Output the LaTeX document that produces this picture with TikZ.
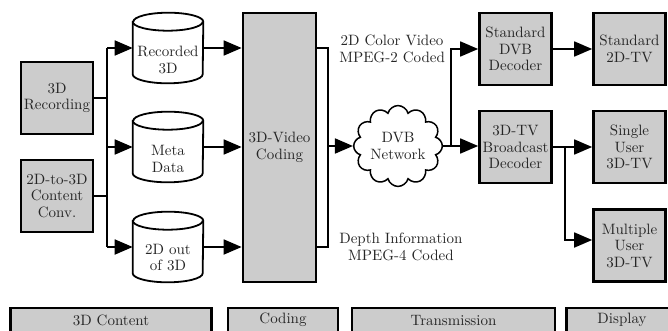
\documentclass[tikz,border=0pt]{standalone}
\usetikzlibrary{arrows.meta,shapes.symbols,calc}
\definecolor{boxgray}{gray}{0.8}
\newcommand{\mycyl}[1]{%
  \draw[cylline,fill=white] ([yshift=-6pt]#1.north west) -- ([yshift=6pt]#1.south west)
    arc[start angle=180,end angle=360,x radius=23.33pt,y radius=6pt]
    -- ([yshift=-6pt]#1.north east)
    arc[start angle=0,end angle=180,x radius=23.33pt,y radius=6pt] -- cycle;
  \draw[cylline] ([yshift=-6pt]#1.north west)
    arc[start angle=180,end angle=360,x radius=23.33pt,y radius=6pt];}
\begin{document}
\begin{tikzpicture}[x=0.6667pt,y=-0.6667pt,
  txt/.style={align=center,font=\fontsize{10}{11}\selectfont,text=black!85},
  box/.style={txt,draw,fill=boxgray,line width=1.8pt,minimum width=48pt,minimum height=48pt,inner sep=1pt},
  ln/.style={line width=1.2pt},
  arr/.style={ln,-{Triangle[length=12pt,width=10pt]}},
  cylline/.style={line width=1.2pt},
  cylbox/.style={minimum width=46.67pt,minimum height=46.67pt,inner sep=0pt},
  bot/.style={box,minimum height=16pt}]
\useasboundingbox (0,0) rectangle (668,330);
\clip (0,0) rectangle (668,330);

% sources
\node[box] (rec) at (57,98) {3D\\Recording};
\node[box] (conv) at (57,196) {2D-to-3D\\Content\\Conv.};

% cylinders
\node[cylbox] (cA) at (168,48) {};
\node[cylbox] (cB) at (168,147) {};
\node[cylbox] (cC) at (168,247) {};
\mycyl{cA}\mycyl{cB}\mycyl{cC}
\node[txt] (tA) at ([yshift=-8pt]cA.center) {Recorded\\3D};
\node[txt] (tB) at ([yshift=-8pt]cB.center) {Meta\\Data};
\node[txt] (tC) at ([yshift=-7pt]cC.center) {2D out\\of 3D};

% coding
\node[box,minimum width=48.7pt,minimum height=179.3pt] (code) at (279.5,147.5) {3D-Video\\Coding};

% cloud
\node[draw,cloud,cloud puffs=12,aspect=1.15,minimum width=57pt,minimum height=50pt,
      fill=white,txt,line width=1pt,inner sep=0pt] (cloud) at (398,146) {DVB\\Network};

% decoders and displays
\node[box] (sdec) at (515.5,49) {Standard\\DVB\\Decoder};
\node[box] (dec3) at (515.5,147) {3D-TV\\Broadcast\\Decoder};
\node[box] (s2d) at (629.5,49) {Standard\\2D-TV};
\node[box] (single) at (629.5,147) {Single\\User\\3D-TV};
\node[box] (multi) at (629.5,245.5) {Multiple\\User\\3D-TV};

% labels
\node[txt,anchor=west] (l1) at (334,49) {2D Color Video\\MPEG-2 Coded};
\node[txt,anchor=west] (l2) at (334,247) {Depth Information\\MPEG-4 Coded};

% bottom phase boxes
\node[bot,minimum width=134pt] (pA) at (111,320) {3D Content};
\node[bot,minimum width=73.3pt] (pB) at (283,320) {Coding};
\node[bot,minimum width=135.3pt] (pC) at (453.5,320) {Transmission};
\node[bot,minimum width=74pt] (pD) at (622,320) {Display};

% connectors: sources -> cylinders
\coordinate (ja) at (107,48);
\coordinate (jb) at (107,247);
\draw[ln] (rec.east) -- (rec.east -| ja);
\draw[ln] (conv.east) -- (conv.east -| ja);
\draw[ln] (ja) -- (jb);
\draw[arr] (ja) -- (cA.west);
\draw[arr] (ja |- cB.west) -- (cB.west);
\draw[arr] (jb) -- (cC.west);

% cylinders -> coding
\draw[arr] (cA.east) -- (cA.east -| code.west);
\draw[arr] (cB.east) -- (cB.east -| code.west);
\draw[arr] (cC.east) -- (cC.east -| code.west);

% coding -> cloud
\coordinate (ju) at (328,48);
\coordinate (jd) at (328,247);
\draw[ln] (ju -| code.east) -- (ju) -- (jd) -- (jd -| code.east);
\draw[arr] (ju |- cloud.west) -- (cloud.west);

% cloud -> decoders
\coordinate (jc) at (451,146);
\draw[ln] (cloud.east) -- (jc);
\draw[arr] (jc) -- (jc -| dec3.west);
\draw[arr] (jc) |- (sdec.west);

% decoders -> displays
\draw[arr] (sdec.east) -- (s2d.west);
\coordinate (jt) at (565,147);
\coordinate (jm) at (565,240);
\draw[ln] (dec3.east) -- (jt);
\draw[arr] (jt) -- (single.west);
\draw[arr] (jt) -- (jm) -- (jm -| multi.west);
\end{tikzpicture}
\end{document}
